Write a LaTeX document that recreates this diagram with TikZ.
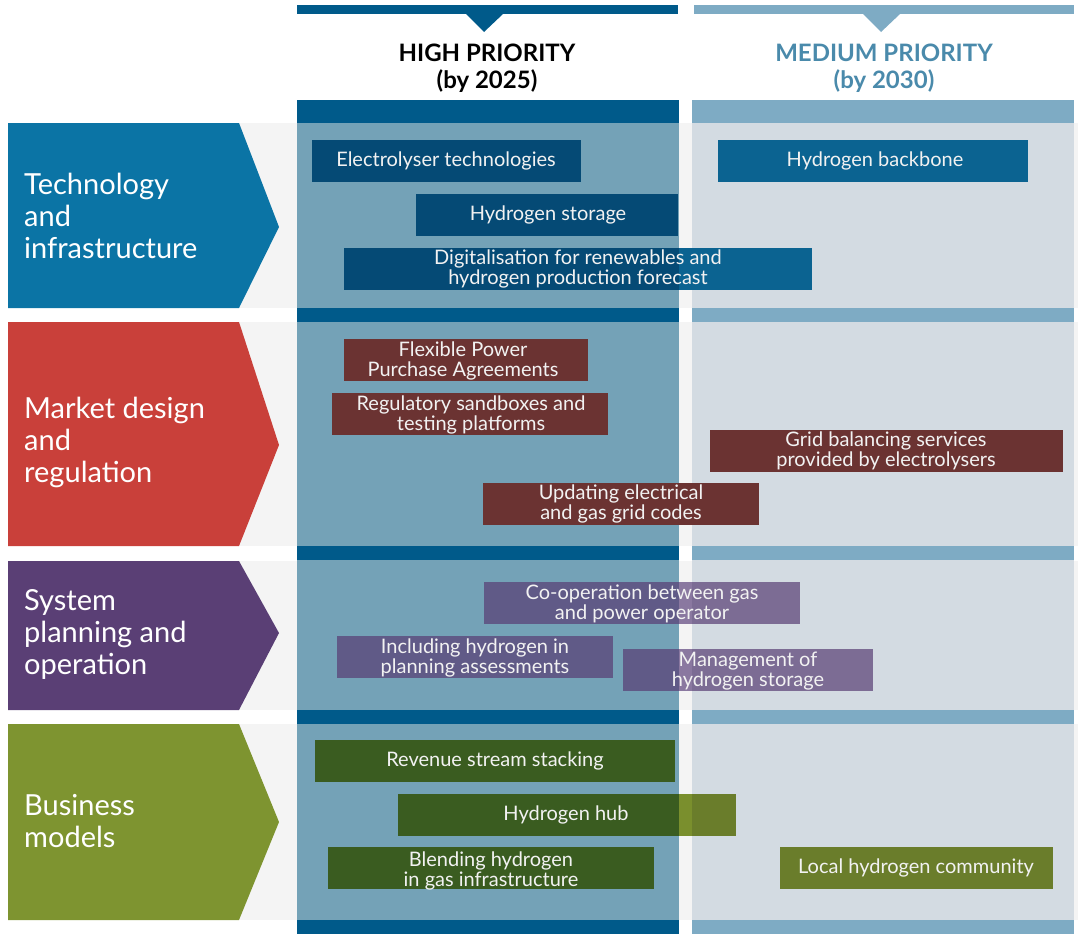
\documentclass[tikz,border=0pt]{standalone}
\usepackage{fontspec}
\setmainfont{Lato}
\usetikzlibrary{calc}

\definecolor{hiblue}{HTML}{005A8A}
\definecolor{hifill}{HTML}{74A2B7}
\definecolor{medbar}{HTML}{7EABC4}
\definecolor{medfill}{HTML}{D3DBE2}
\definecolor{medtext}{HTML}{4A8AAB}
\definecolor{band}{HTML}{F4F4F4}
\definecolor{techcol}{HTML}{0B74A5}
\definecolor{marketcol}{HTML}{C9403A}
\definecolor{syscol}{HTML}{5A3F75}
\definecolor{buscol}{HTML}{7E9430}
\definecolor{techhi}{HTML}{054A75}
\definecolor{techmed}{HTML}{0B6391}
\definecolor{marketbox}{HTML}{6B3332}
\definecolor{syshi}{HTML}{605A87}
\definecolor{sysmed}{HTML}{7C6C94}
\definecolor{sysgap}{HTML}{8A78A0}
\definecolor{bushi}{HTML}{3A5C20}
\definecolor{busmed}{HTML}{6A7D2B}
\definecolor{busgap}{HTML}{7A8F2D}
\definecolor{boxtext}{HTML}{F2F2F2}

\tikzset{
  boxlabel/.style={text=boxtext, align=center, inner sep=0pt, font=\fontsize{20}{20}\selectfont},
  catlabel/.style={text=white, align=left, anchor=west, inner sep=0pt, font=\fontsize{29}{32}\selectfont},
  headlabel/.style={align=center, inner sep=0pt, font=\fontsize{24}{27}\selectfont\bfseries}
}

\begin{document}
\begin{tikzpicture}[x=1pt,y=-1pt]
\useasboundingbox (0,0) rectangle (1078,935);

%HEADER
\fill[hiblue] (297,5) rectangle (678,14);
\fill[hiblue] (466,14) -- (503,14) -- (484,32) -- cycle;
\fill[medbar] (694,5) rectangle (1074,14);
\fill[medbar] (863,14) -- (900,14) -- (881,32) -- cycle;
\node[headlabel, text=black] (high) at (487,68) {HIGH PRIORITY\\(by 2025)};
\node[headlabel, text=medtext] (medium) at (884,68) {MEDIUM PRIORITY\\(by 2030)};

%ROW BANDS
\fill[band] (8,123) rectangle (1078,308);
\fill[band] (8,322) rectangle (1078,546);
\fill[band] (8,561) rectangle (1078,710);
\fill[band] (8,724) rectangle (1078,920);

%CHEVRONS
\fill[techcol] (8,123) -- (239,123) -- (279,227) -- (239,308) -- (8,308) -- cycle;
\fill[marketcol] (8,322) -- (239,322) -- (279,445) -- (239,546) -- (8,546) -- cycle;
\fill[syscol] (8,561) -- (239,561) -- (279,633) -- (239,710) -- (8,710) -- cycle;
\fill[buscol] (8,724) -- (239,724) -- (279,822) -- (239,920) -- (8,920) -- cycle;

\node[catlabel] (tech) at (24,216) {Technology\\and\\infrastructure};
\node[catlabel] (market) at (24,442) {Market design\\and\\regulation};
\node[catlabel] (system) at (24,634) {System\\planning and\\operation};
\node[catlabel] (business) at (24,821) {Business\\models};

%COLUMNS
\fill[hifill] (297,123) rectangle (679,920);
\fill[medfill] (692,123) rectangle (1074,920);
\fill[hiblue] (297,100) rectangle (679,123);
\fill[medbar] (692,100) rectangle (1074,123);
\foreach \y in {308,546,710,920} {
  \fill[hiblue] (297,\y) rectangle (679,\y+14);
  \fill[medbar] (692,\y) rectangle (1074,\y+14);
}

%TECHNOLOGY BOXES
\fill[techhi] (312,140) rectangle (581,182);
\fill[techhi] (416,194) rectangle (678,236);
\fill[techhi] (344,248) rectangle (679,290);
\fill[techmed] (679,248) rectangle (812,290);
\fill[techmed] (718,140) rectangle (1028,182);
\node[boxlabel] (electro) at (446,161) {Electrolyser technologies};
\node[boxlabel] (storage) at (548,215) {Hydrogen storage};
\node[boxlabel] (digital) at (578,269) {Digitalisation for renewables and\\hydrogen production forecast};
\node[boxlabel] (backbone) at (875,161) {Hydrogen backbone};

%MARKET BOXES
\fill[marketbox] (344,339) rectangle (588,381);
\fill[marketbox] (332,393) rectangle (608,435);
\fill[marketbox] (710,430) rectangle (1063,472);
\fill[marketbox] (483,483) rectangle (759,525);
\node[boxlabel] (ppa) at (463,361) {Flexible Power\\Purchase Agreements};
\node[boxlabel] (sandbox) at (471,415) {Regulatory sandboxes and\\testing platforms};
\node[boxlabel] (balancing) at (886,451) {Grid balancing services\\provided by electrolysers};
\node[boxlabel] (gridcodes) at (621,504) {Updating electrical\\and gas grid codes};

%SYSTEM BOXES
\fill[syshi] (484,582) rectangle (679,624);
\fill[sysgap] (679,582) rectangle (692,624);
\fill[sysmed] (692,582) rectangle (800,624);
\fill[syshi] (337,636) rectangle (613,678);
\fill[syshi] (623,649) rectangle (679,691);
\fill[sysgap] (679,649) rectangle (692,691);
\fill[sysmed] (692,649) rectangle (873,691);
\node[boxlabel] (coop) at (642,604) {Co-operation between gas\\and power operator};
\node[boxlabel] (planning) at (475,658) {Including hydrogen in\\planning assessments};
\node[boxlabel] (mgmt) at (748,671) {Management of\\hydrogen storage};

%BUSINESS BOXES
\fill[bushi] (315,740) rectangle (675,782);
\fill[bushi] (398,794) rectangle (679,836);
\fill[busgap] (679,794) rectangle (692,836);
\fill[busmed] (692,794) rectangle (736,836);
\fill[bushi] (328,847) rectangle (654,889);
\fill[busmed] (780,847) rectangle (1053,889);
\node[boxlabel] (revenue) at (495,761) {Revenue stream stacking};
\node[boxlabel] (hub) at (566,815) {Hydrogen hub};
\node[boxlabel] (blending) at (491,871) {Blending hydrogen\\in gas infrastructure};
\node[boxlabel] (community) at (916,868) {Local hydrogen community};

\end{tikzpicture}
\end{document}
